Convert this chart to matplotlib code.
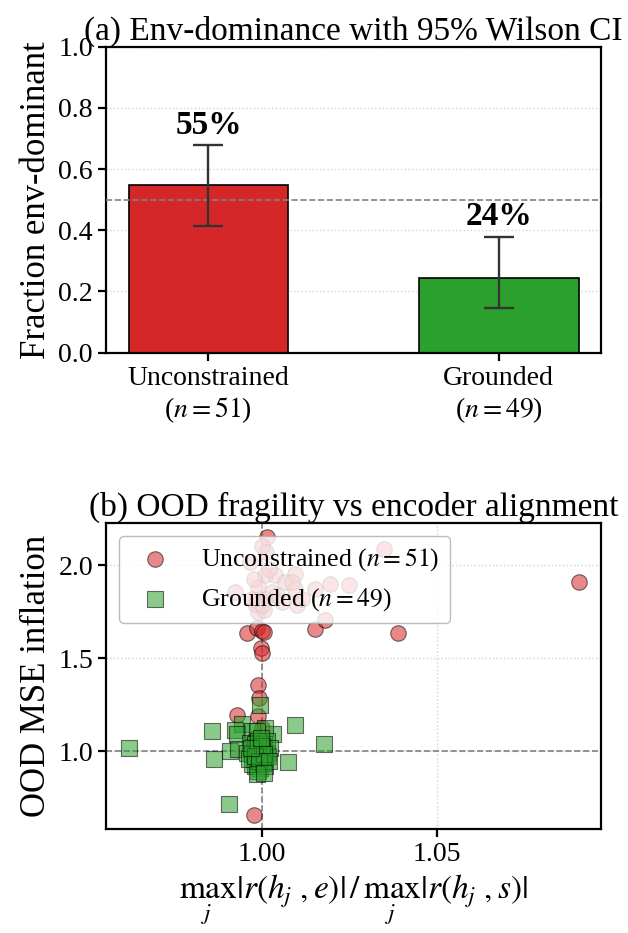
import matplotlib
matplotlib.use("Agg")
import matplotlib.pyplot as plt

plt.rcParams["font.family"] = "serif"
plt.rcParams["font.serif"] = ["Liberation Serif", "DejaVu Serif"]
plt.rcParams["mathtext.fontset"] = "stix"

# panel (a): env-dominance fractions with Wilson CI
groups = ["Unconstrained\n($n=51$)", "Grounded\n($n=49$)"]
frac = [28 / 51, 12 / 49]
ci_lo = [0.413, 0.146]
ci_hi = [0.678, 0.379]
bar_colors = ["#d62728", "#2ca02c"]

# panel (b): ratio vs OOD MSE inflation
unc_x = [1.0014, 1.0905, 0.9957, 0.9986, 1.0000, 1.0005, 1.0152, 1.0181, 1.0389, 0.9997,
         1.0000, 0.9988, 0.9993, 0.9929, 0.9988, 0.9978,
         1.0012, 1.0348, 0.9967, 1.0010, 1.0038, 1.0095, 1.0067, 1.0152, 1.0195, 1.0248,
         0.9990, 0.9924, 1.0029, 1.0095, 0.9995, 1.0057, 1.0100, 0.9990, 1.0005, 0.9981,
         1.0010,
         1.0000, 1.0019, 0.9976, 1.0043, 1.0000, 1.0114, 0.9971, 1.0086,
         1.0000, 1.0005, 0.9990, 1.0010, 0.9995, 0.9981]
unc_y = [2.152, 1.911, 1.634, 1.661, 1.646, 1.643, 1.657, 1.705, 1.634, 1.557,
         1.527, 1.354, 1.286, 1.196, 1.191, 0.657,
         2.071, 2.089, 2.018, 1.946, 1.946, 1.955, 1.911, 1.875, 1.902, 1.893,
         1.884, 1.857, 1.857, 1.875, 1.821, 1.804, 1.786, 1.750, 1.759, 1.795,
         1.821,
         2.107, 1.982, 1.929, 1.839, 1.786, 1.821, 1.821, 1.911,
         1.125, 1.036, 1.000, 0.964, 0.929, 1.071]

grd_x = [0.9619, 0.9857, 0.9864, 0.9905, 0.9995, 1.0095, 1.0178, 1.0076, 1.0033, 0.9943,
         0.9924, 0.9929, 0.9910, 0.9933, 1.0010, 0.9971, 0.9986, 0.9967, 0.9981, 1.0005,
         0.9957, 0.9971, 0.9986, 1.0000, 1.0014, 1.0010, 0.9995, 0.9976, 0.9981, 0.9995,
         1.0010, 0.9990, 0.9971, 0.9962, 1.0016, 1.0003, 0.9986, 1.0014, 1.0024,
         0.9990, 1.0000, 0.9979, 1.0005, 0.9992, 1.0019, 0.9970, 0.9998, 0.9986, 1.0005]
grd_y = [1.014, 1.107, 0.959, 0.714, 1.250, 1.138, 1.036, 0.943, 1.093, 1.146,
         1.111, 1.089, 1.000, 1.009, 1.125, 1.107, 1.107, 1.045, 1.036, 1.036,
         0.991, 0.982, 0.991, 1.000, 0.991, 0.964, 0.964, 0.955, 0.920, 0.911,
         0.920, 0.893, 0.929, 0.955, 0.973, 0.938, 1.018, 1.054, 1.018,
         1.054, 1.027, 0.973, 0.982, 0.946, 0.946, 1.018, 1.071, 0.875, 0.879]

fig = plt.figure(figsize=(6.28, 9.33), dpi=100)
ax1 = fig.add_axes([0.169, 0.622, 0.788, 0.328])
ax2 = fig.add_axes([0.169, 0.112, 0.788, 0.327])

# --- (a) bars
pos = list(range(len(groups)))
ax1.bar(pos, frac, width=0.55, color=bar_colors, edgecolor="black", linewidth=1.2, zorder=2)
err_lo = [f - lo for f, lo in zip(frac, ci_lo)]
err_hi = [hi - f for f, hi in zip(frac, ci_hi)]
ax1.errorbar(pos, frac, yerr=[err_lo, err_hi], fmt="none", ecolor="#333333",
             elinewidth=1.7, capsize=11, capthick=1.7, zorder=4)
ax1.axhline(0.5, color="gray", linestyle="--", linewidth=1.2, zorder=3)
for p, f, hi in zip(pos, frac, ci_hi):
    ax1.text(p, hi + 0.015, f"{round(f * 100):d}%", ha="center", va="bottom",
             fontsize=24, fontweight="bold")
ax1.set_ylim(0, 1.0)
ax1.set_xticks(pos)
ax1.set_xticklabels(groups)
ax1.set_ylabel("Fraction env-dominant", fontsize=25)
ax1.set_title("(a) Env-dominance with 95% Wilson CI", fontsize=24, pad=5)
ax1.grid(axis="y", linestyle=":", color="lightgray", linewidth=1, zorder=0)
ax1.set_axisbelow(True)

# --- (b) scatter
ax2.axvline(1.0, color="gray", linestyle="--", linewidth=1.2, zorder=1)
ax2.axhline(1.0, color="gray", linestyle="--", linewidth=1.2, zorder=1)
ax2.scatter(unc_x, unc_y, s=125, marker="o", color="#d62728", alpha=0.55,
            edgecolors="black", linewidths=0.8, zorder=2, label="Unconstrained ($n=51$)")
ax2.scatter(grd_x, grd_y, s=125, marker="s", color="#2ca02c", alpha=0.55,
            edgecolors="black", linewidths=0.8, zorder=3, label="Grounded ($n=49$)")
ax2.set_xticks([1.00, 1.05])
ax2.set_yticks([1.0, 1.5, 2.0])
ax2.set_xlabel(r"$\max_j |r(h_j\,, e)|\,/\,\max_j |r(h_j\,, s)|$", fontsize=24)
ax2.set_ylabel("OOD MSE inflation", fontsize=25)
ax2.set_title("(b) OOD fragility vs encoder alignment", fontsize=24, pad=5)
ax2.grid(linestyle=":", color="lightgray", linewidth=1, zorder=0)
ax2.set_axisbelow(True)
ax2.legend(loc="upper left", fontsize=18.5, framealpha=0.8, edgecolor="#aaaaaa")

for ax in (ax1, ax2):
    for sp in ax.spines.values():
        sp.set_linewidth(1.6)
    ax.tick_params(labelsize=20, width=1.6, length=6)

fig.savefig("out.png", dpi=100)
